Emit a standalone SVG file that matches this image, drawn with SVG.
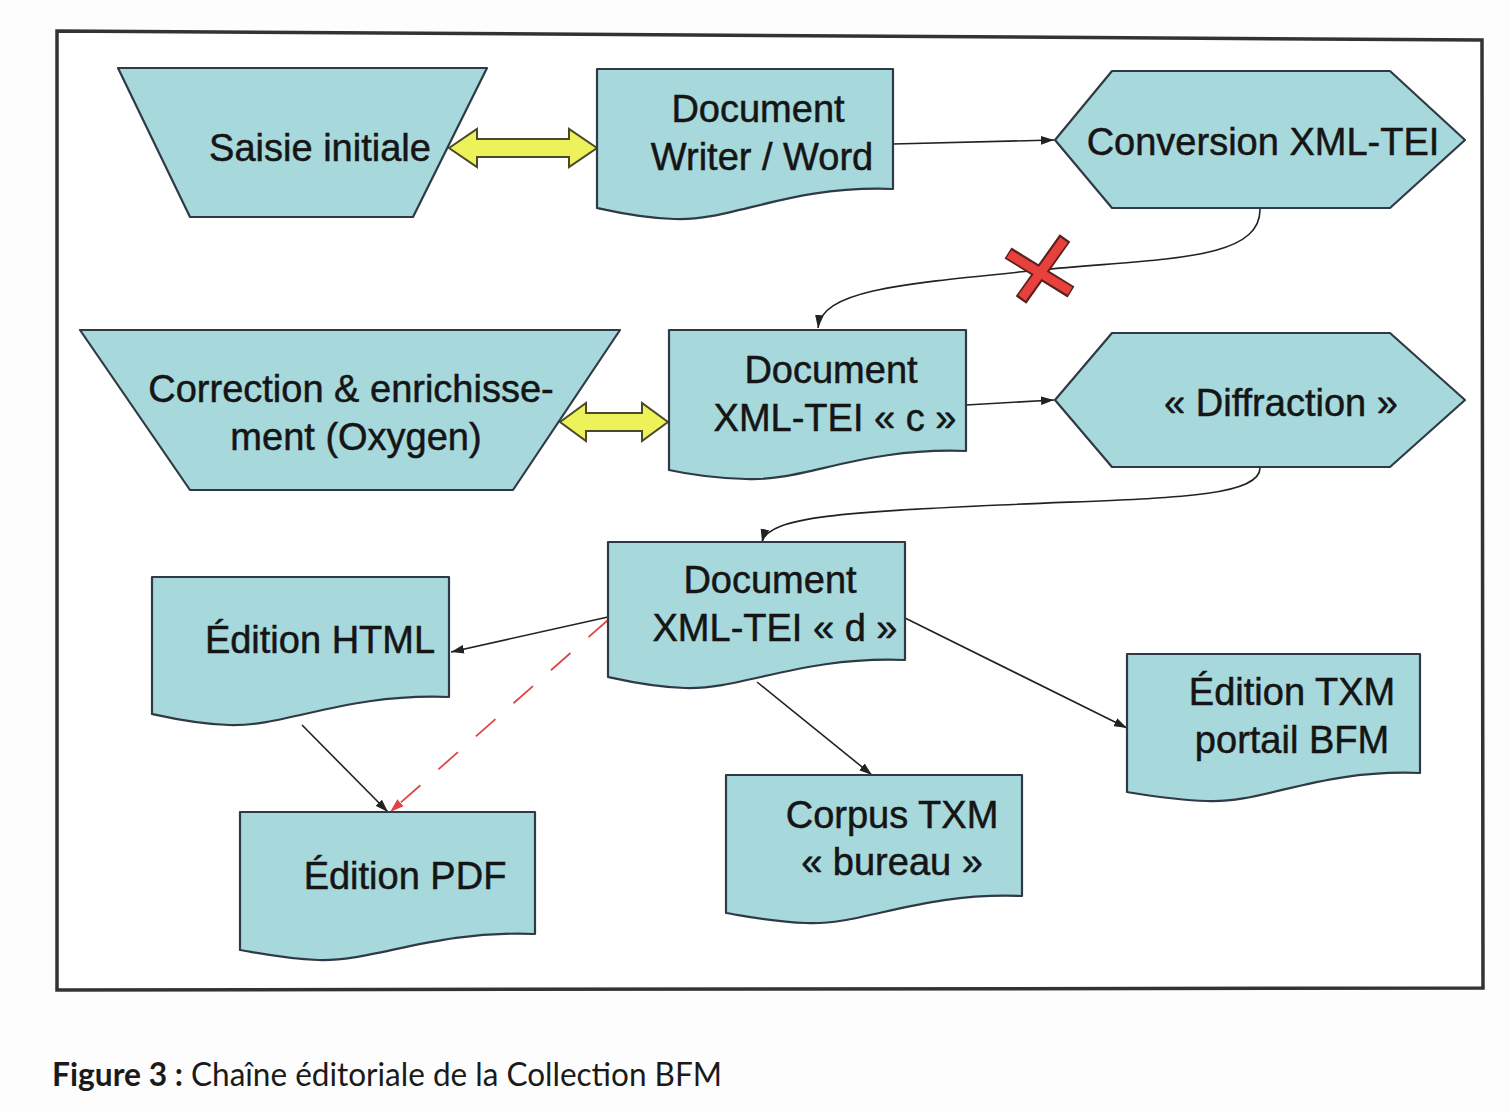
<svg xmlns="http://www.w3.org/2000/svg" width="1510" height="1113" viewBox="0 0 1510 1113">
<defs>
<style>
.node{fill:#a7d8db;stroke:#2f3a44;stroke-width:2.2;stroke-linejoin:round}
.lbl{font-family:"Liberation Sans",Arial,sans-serif;font-size:38px;fill:#151515;stroke:#151515;stroke-width:0.5;text-anchor:middle}
.con{fill:none;stroke:#222;stroke-width:1.6}
.dash{fill:none;stroke:#e04545;stroke-width:1.8;stroke-dasharray:26 24}
.dbl{fill:#eef25a;stroke:#4a4a2a;stroke-width:2;stroke-linejoin:miter}
.cap{font-family:Lato,"Noto Sans",sans-serif;font-size:33px;fill:#1a1a1a}
</style>
<marker id="ah" viewBox="0 0 12 8" refX="12" refY="4" markerWidth="13" markerHeight="9" markerUnits="userSpaceOnUse" orient="auto">
<path d="M0,0 L12,4 L0,8 Z" fill="#222"/>
</marker>
<marker id="ahr" viewBox="0 0 12 8" refX="12" refY="4" markerWidth="14" markerHeight="10" markerUnits="userSpaceOnUse" orient="auto">
<path d="M0,0 L12,4 L0,8 Z" fill="#e04545"/>
</marker>
</defs>
<rect x="0" y="0" width="1510" height="1113" fill="#fdfdfd"/>
<path d="M57,31 L1482,40 L1483,988 L57,990 Z" fill="#ffffff" stroke="#333" stroke-width="3.5"/>

<g id="connectors">
<path class="con" d="M893,144 L1054,140" marker-end="url(#ah)"/>
<path class="con" d="M1260,208 C1262,262 1160,258 1040,270 C900,284 822,290 818,328" marker-end="url(#ah)"/>
<path class="con" d="M966,405 L1054,400" marker-end="url(#ah)"/>
<path class="con" d="M1260,467 C1262,500 1150,498 1000,505 C850,512 768,516 762,542" marker-end="url(#ah)"/>
<path class="con" d="M608,617 L451,652" marker-end="url(#ah)"/>
<path class="dash" d="M608,620 L390,812" marker-end="url(#ahr)"/>
<path class="con" d="M302,725 L388,812" marker-end="url(#ah)"/>
<path class="con" d="M757,682 L872,775" marker-end="url(#ah)"/>
<path class="con" d="M905,618 L1127,728" marker-end="url(#ah)"/>
<polygon class="dbl" points="449,148 477,129 477,139 569,139 569,129 597,148 569,167 569,157 477,157 477,167"/>
<polygon class="dbl" points="560,422 586,403 586,413 642,413 642,403 668,422 642,441 642,431 586,431 586,441"/>
<g id="cross">
<line x1="1008" y1="253" x2="1071" y2="292" stroke="#5a2020" stroke-width="13"/>
<line x1="1065" y1="238" x2="1021" y2="300" stroke="#5a2020" stroke-width="13"/>
<line x1="1009" y1="254" x2="1070" y2="291" stroke="#e8413c" stroke-width="9"/>
<line x1="1064" y1="240" x2="1022" y2="298" stroke="#e8413c" stroke-width="9"/>
</g>
</g>

<g id="saisie">
<polygon class="node" points="118,68 487,68 413,217 190,217"/>
<text class="lbl" x="320" y="161">Saisie initiale</text>
</g>
<g id="writer">
<path class="node" d="M597,69 H893 V189 C789,185 730,222 674,219 C641,218 615,212 597,208 Z"/>
<text class="lbl" x="758" y="122">Document</text>
<text class="lbl" x="762" y="170">Writer / Word</text>
</g>
<g id="conversion">
<polygon class="node" points="1055,140 1112,71 1390,71 1465,140 1390,208 1112,208"/>
<text class="lbl" x="1263" y="155">Conversion XML-TEI</text>
</g>
<g id="correction">
<polygon class="node" points="80,330 620,330 513,490 190,490"/>
<text class="lbl" x="351" y="402">Correction &amp; enrichisse-</text>
<text class="lbl" x="356" y="450">ment (Oxygen)</text>
</g>
<g id="docc">
<path class="node" d="M669,330 H966 V451 C862,447 803,482 746,479 C713,478 687,474 669,470 Z"/>
<text class="lbl" x="831" y="383">Document</text>
<text class="lbl" x="835" y="431">XML-TEI « c »</text>
</g>
<g id="diffraction">
<polygon class="node" points="1055,400 1112,333 1390,333 1465,400 1390,467 1112,467"/>
<text class="lbl" x="1281" y="416">« Diffraction »</text>
</g>
<g id="docd">
<path class="node" d="M608,542 H905 V660 C801,656 742,690 685,688 C652,687 626,681 608,677 Z"/>
<text class="lbl" x="770" y="593">Document</text>
<text class="lbl" x="775" y="641">XML-TEI « d »</text>
</g>
<g id="html">
<path class="node" d="M152,577 H449 V697 C345,693 286,727 229,725 C196,724 170,718 152,714 Z"/>
<text class="lbl" x="320" y="653">Édition HTML</text>
</g>
<g id="pdf">
<path class="node" d="M240,812 H535 V934 C432,930 374,962 318,960 C285,959 258,953 240,950 Z"/>
<text class="lbl" x="405" y="889">Édition PDF</text>
</g>
<g id="corpus">
<path class="node" d="M726,775 H1022 V896 C919,892 862,926 806,923 C773,922 745,916 726,913 Z"/>
<text class="lbl" x="892" y="828">Corpus TXM</text>
<text class="lbl" x="892" y="875">« bureau »</text>
</g>
<g id="txm">
<path class="node" d="M1127,654 H1420 V773 C1318,769 1262,804 1207,801 C1174,800 1146,795 1127,792 Z"/>
<text class="lbl" x="1292" y="705">Édition TXM</text>
<text class="lbl" x="1292" y="753">portail BFM</text>
</g>

<text class="cap" x="52" y="1086" font-weight="bold" textLength="131" lengthAdjust="spacingAndGlyphs">Figure 3 :</text>
<text class="cap" x="191" y="1086" textLength="531" lengthAdjust="spacingAndGlyphs">Chaîne éditoriale de la Collection BFM</text>
</svg>
